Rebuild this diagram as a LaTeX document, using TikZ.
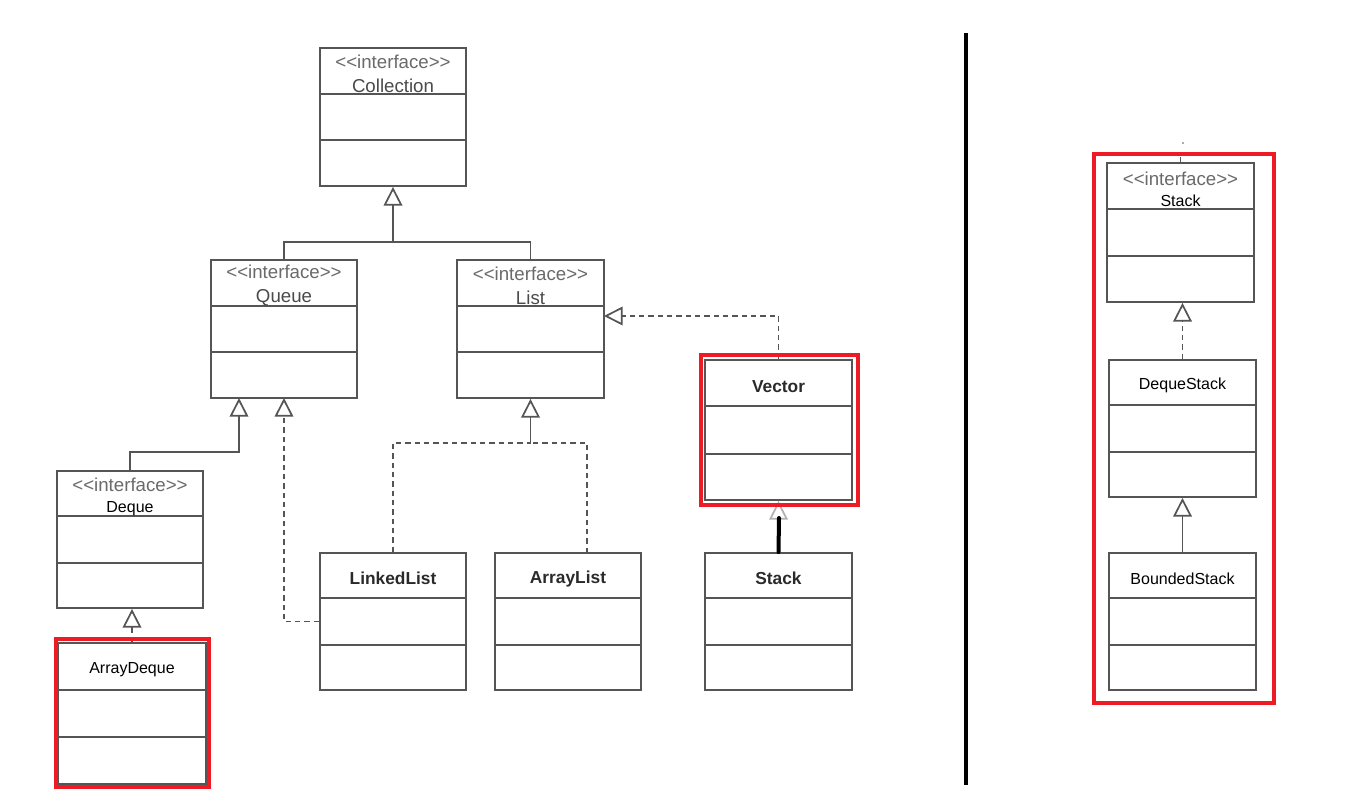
\documentclass[tikz,border=0pt]{standalone}
\usepackage{fontspec}
\setmainfont{Liberation Sans}
\usetikzlibrary{arrows.meta,calc,fit}
\definecolor{redbox}{HTML}{ED1C24}
\definecolor{umlline}{HTML}{555555}
\definecolor{ifacegray}{HTML}{6A6A6A}
\definecolor{namegray}{HTML}{4A4A4A}
\definecolor{clsgray}{HTML}{2A2A2A}
\tikzset{
  x=0.75pt, y=-0.75pt,
  clsbox/.style={draw=umlline, line width=1.4pt, inner sep=0pt, fill=white},
  divline/.style={draw=umlline, line width=1.4pt},
  conn/.style={draw=umlline, line width=1.3pt},
  inh/.style={conn, -{Triangle[fill=white, length=14pt, width=14pt]}},
  dashconn/.style={dash pattern=on 4pt off 3pt},
  redframe/.style={draw=redbox, line width=3.2pt},
  hdr/.style={inner sep=0pt, align=center, font=\fontsize{14}{18}\selectfont},
}
\newcommand\ifacetxt{\textcolor{ifacegray}{<\kern0pt<interface>\kern0pt>}}
\newcommand\clsname[1]{{\fontsize{13}{15}\selectfont\bfseries\color{clsgray}#1}}
\newcommand\smallname[1]{{\fontsize{12}{14}\selectfont\color{black}#1}}
\newcommand\umlclass[6]{%
  \path (#2,#3) coordinate (#1-nw) (#4,#5) coordinate (#1-se);
  \node[clsbox, fit=(#1-nw)(#1-se)] (#1) {};
  \draw[divline] ($(#1.north west)!1/3!(#1.south west)$) -- ($(#1.north east)!1/3!(#1.south east)$);
  \draw[divline] ($(#1.north west)!2/3!(#1.south west)$) -- ($(#1.north east)!2/3!(#1.south east)$);
  \node[hdr] (#1-lbl) at ($(#1.north)!1/6!(#1.south)+(0,3.5)$) {#6};
}
\begin{document}
\begin{tikzpicture}
\useasboundingbox (0,0) rectangle (1345,811);
% classes
\umlclass{coll}{320}{48}{466}{186}{\ifacetxt\\\textcolor{namegray}{Collection}}
\umlclass{queue}{211}{260}{357}{398}{\ifacetxt\\\textcolor{namegray}{Queue}}
\umlclass{list}{457}{260}{604}{398}{\ifacetxt\\\textcolor{namegray}{List}}
\umlclass{vector}{705}{360}{852}{500}{\clsname{Vector}}
\umlclass{deque}{57}{471}{203}{608}{\ifacetxt\\[-2pt]\smallname{Deque}}
\umlclass{adeque}{58}{643}{206}{784}{\smallname{ArrayDeque}}
\umlclass{llist}{320}{553}{466}{690}{\clsname{LinkedList}}
\umlclass{alist}{495}{553}{641}{690}{\clsname{ArrayList}}
\umlclass{stack}{705}{553}{852}{690}{\clsname{Stack}}
\umlclass{istack}{1107}{163}{1254}{302}{\ifacetxt\\[-2pt]\smallname{Stack}}
\umlclass{dstack}{1109}{360}{1256}{497}{\smallname{DequeStack}}
\umlclass{bstack}{1109}{553}{1256}{690}{\smallname{BoundedStack}}
% junction coordinates
\coordinate (j1) at (393,242);
\coordinate (qd) at (239,398);
\coordinate (qdbend) at (239,452);
\coordinate (ql) at (284,398);
\coordinate (lj) at (530.5,443);
\coordinate (alt) at (587,553);
\coordinate (le) at (604,316);
\coordinate (svtop) at (779,518);
\coordinate (tk) at (1180.5,157);
\coordinate (dot) at (1183,143);
\coordinate (vt) at (966,33);
\coordinate (vb) at (966,785);
% connectors
\draw[inh] (j1) -- (coll.south);
\draw[conn] (queue.north) |- (j1) -| (list.north);
\draw[inh] (deque.north) |- (qdbend) -- (qd);
\draw[inh, dashconn] (llist.west) -| (ql);
\draw[inh] (lj) -- (list.south);
\draw[conn, dashconn] (llist.north) |- (lj);
\draw[conn, dashconn] (alt) |- (lj);
\draw[inh, dashconn] (vector.north) |- (le);
\draw[inh, draw=gray!60] (stack.north) -- (vector.south);
\draw[line width=3pt, black, line cap=round] (stack.north) -- (svtop);
\draw[inh, dashconn] (adeque.north) -- (adeque.north |- deque.south);
\draw[inh, dashconn] (dstack.north) -- (dstack.north |- istack.south);
\draw[inh] (bstack.north) -- (bstack.north |- dstack.south);
\draw[conn] (istack.north) -- (tk);
\fill[umlline] (dot) circle (0.9);
% separator
\draw[line width=3pt, black] (vt) -- (vb);
% red highlight frames
\draw[redframe] (56,639) rectangle (209,787);
\draw[redframe] (701,355) rectangle (858,505);
\draw[redframe] (1094,154) rectangle (1274,703);
\end{tikzpicture}
\end{document}
